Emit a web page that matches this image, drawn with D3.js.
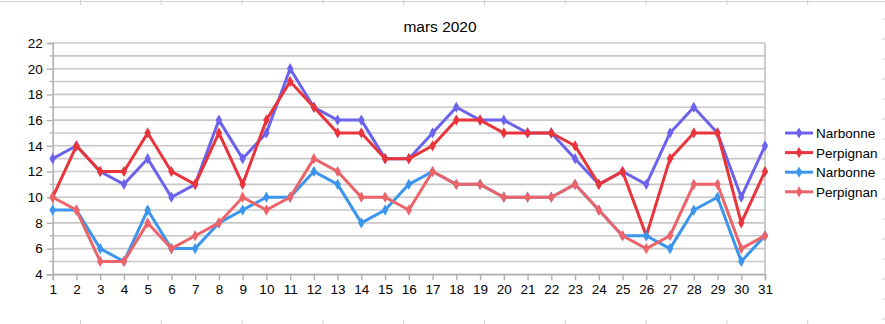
<!DOCTYPE html>
<html><head><meta charset="utf-8">
<script src="https://cdn.jsdelivr.net/npm/d3@7"></script>
<style>body{margin:0;background:#fff}svg{display:block;font-family:"Liberation Sans",Arial,sans-serif}</style>
</head><body><svg id="c" width="885" height="324"></svg>
<script>
const days = d3.range(1, 32);
const narbonneMax = [13,14,12,11,13,10,11,16,13,15,20,17,16,16,13,13,15,17,16,16,15,15,13,11,12,11,15,17,15,10,14];
const perpignanMax = [10,14,12,12,15,12,11,15,11,16,19,17,15,15,13,13,14,16,16,15,15,15,14,11,12,7,13,15,15,8,12];
const narbonneMin = [9,9,6,5,9,6,6,8,9,10,10,12,11,8,9,11,12,11,11,10,10,10,11,9,7,7,6,9,10,5,7];
const perpignanMin = [10,9,5,5,8,6,7,8,10,9,10,13,12,10,10,9,12,11,11,10,10,10,11,9,7,6,7,11,11,6,7];
const seriesNames = ["Narbonne","Perpignan","Narbonne","Perpignan"];
const seriesColors = ["#6b63ec","#e8343a","#3b95ec","#ec6469"];
const seriesData = [narbonneMax, perpignanMax, narbonneMin, perpignanMin];
const yTicks = d3.range(4, 23, 2);
const title = "mars 2020";

const svg = d3.select("#c");
const m = {l:52.7, r:765, t:43, b:274.3};
const x = d3.scaleLinear().domain([1,31]).range([m.l, m.r]);
const y = d3.scaleLinear().domain([4,22]).range([m.b, m.t]);

// faint sheet cell borders
const sheet = svg.append("g").attr("stroke","#d0d0d0").attr("stroke-width",1);
sheet.append("line").attr("x1",0).attr("x2",885).attr("y1",1.5).attr("y2",1.5);
d3.range(80.5, 885, 80.8).forEach(v=>{
  sheet.append("line").attr("x1",v).attr("x2",v).attr("y1",0).attr("y2",5);
  sheet.append("line").attr("x1",v).attr("x2",v).attr("y1",320).attr("y2",324);
});
d3.range(19, 324, 20).forEach(v=>{
  sheet.append("line").attr("x1",882).attr("x2",885).attr("y1",v).attr("y2",v);
});

// horizontal gridlines every unit
const grid = svg.append("g");
grid.selectAll("line").data(d3.range(4,23,1)).join("line")
  .attr("x1", m.l).attr("x2", m.r)
  .attr("y1", d=>y(d)).attr("y2", d=>y(d))
  .attr("stroke","#c8c8c8").attr("stroke-width",1.6);
// right border
svg.append("line").attr("x1",m.r).attr("x2",m.r).attr("y1",m.t).attr("y2",m.b)
  .attr("stroke","#b8b8b8").attr("stroke-width",1.4);

// y axis
const yAxis = d3.axisLeft(y).tickValues(yTicks).tickSize(6).tickPadding(4);
const gy = svg.append("g").attr("transform",`translate(${m.l},0)`).call(yAxis);
gy.select(".domain").attr("stroke","#b0b0b0").attr("stroke-width",1.6);
gy.selectAll(".tick line").attr("stroke","#b0b0b0").attr("stroke-width",1.4);
gy.selectAll(".tick text").attr("font-size",13.5).attr("fill","#000").attr("font-family","Liberation Sans, Arial, sans-serif");
// minor ticks
svg.append("g").selectAll("line").data(d3.range(5,22,2)).join("line")
  .attr("x1", m.l-3).attr("x2", m.l).attr("y1", d=>y(d)).attr("y2", d=>y(d))
  .attr("stroke","#b0b0b0").attr("stroke-width",1.4);

// x axis
const xAxis = d3.axisBottom(x).tickValues(days).tickSize(6).tickPadding(4).tickFormat(d3.format("d"));
const gx = svg.append("g").attr("transform",`translate(0,${m.b})`).call(xAxis);
gx.select(".domain").attr("stroke","#b0b0b0").attr("stroke-width",1.6);
gx.selectAll(".tick line").attr("stroke","#b0b0b0").attr("stroke-width",1.4);
gx.selectAll(".tick text").attr("font-size",13.5).attr("fill","#000").attr("font-family","Liberation Sans, Arial, sans-serif");

// series
const line = d3.line().x((d,i)=>x(days[i])).y(d=>y(d));
const diamond = d3.symbol().type(d3.symbolDiamond).size(36);
seriesData.forEach((data, k)=>{
  const g = svg.append("g");
  g.append("path").datum(data).attr("d", line).attr("fill","none")
    .attr("stroke", seriesColors[k]).attr("stroke-width",3).attr("stroke-linejoin","round");
  g.selectAll("path.m").data(data).join("path").attr("class","m")
    .attr("d", diamond).attr("fill", seriesColors[k])
    .attr("transform",(d,i)=>`translate(${x(days[i])},${y(d)})`);
});

// title
svg.append("text").attr("x",440).attr("y",32).attr("text-anchor","middle")
  .attr("font-size",15.5).attr("fill","#000").text(title);

// legend
const lg = svg.append("g");
seriesNames.forEach((name,k)=>{
  const yy = 133 + k*19.6;
  lg.append("line").attr("x1",785).attr("x2",813).attr("y1",yy).attr("y2",yy)
    .attr("stroke",seriesColors[k]).attr("stroke-width",3);
  lg.append("path").attr("d",diamond).attr("fill",seriesColors[k]).attr("transform",`translate(799,${yy})`);
  lg.append("text").attr("x",816).attr("y",yy+5).attr("font-size",13.5).attr("fill","#000").text(name);
});
</script></body></html>
